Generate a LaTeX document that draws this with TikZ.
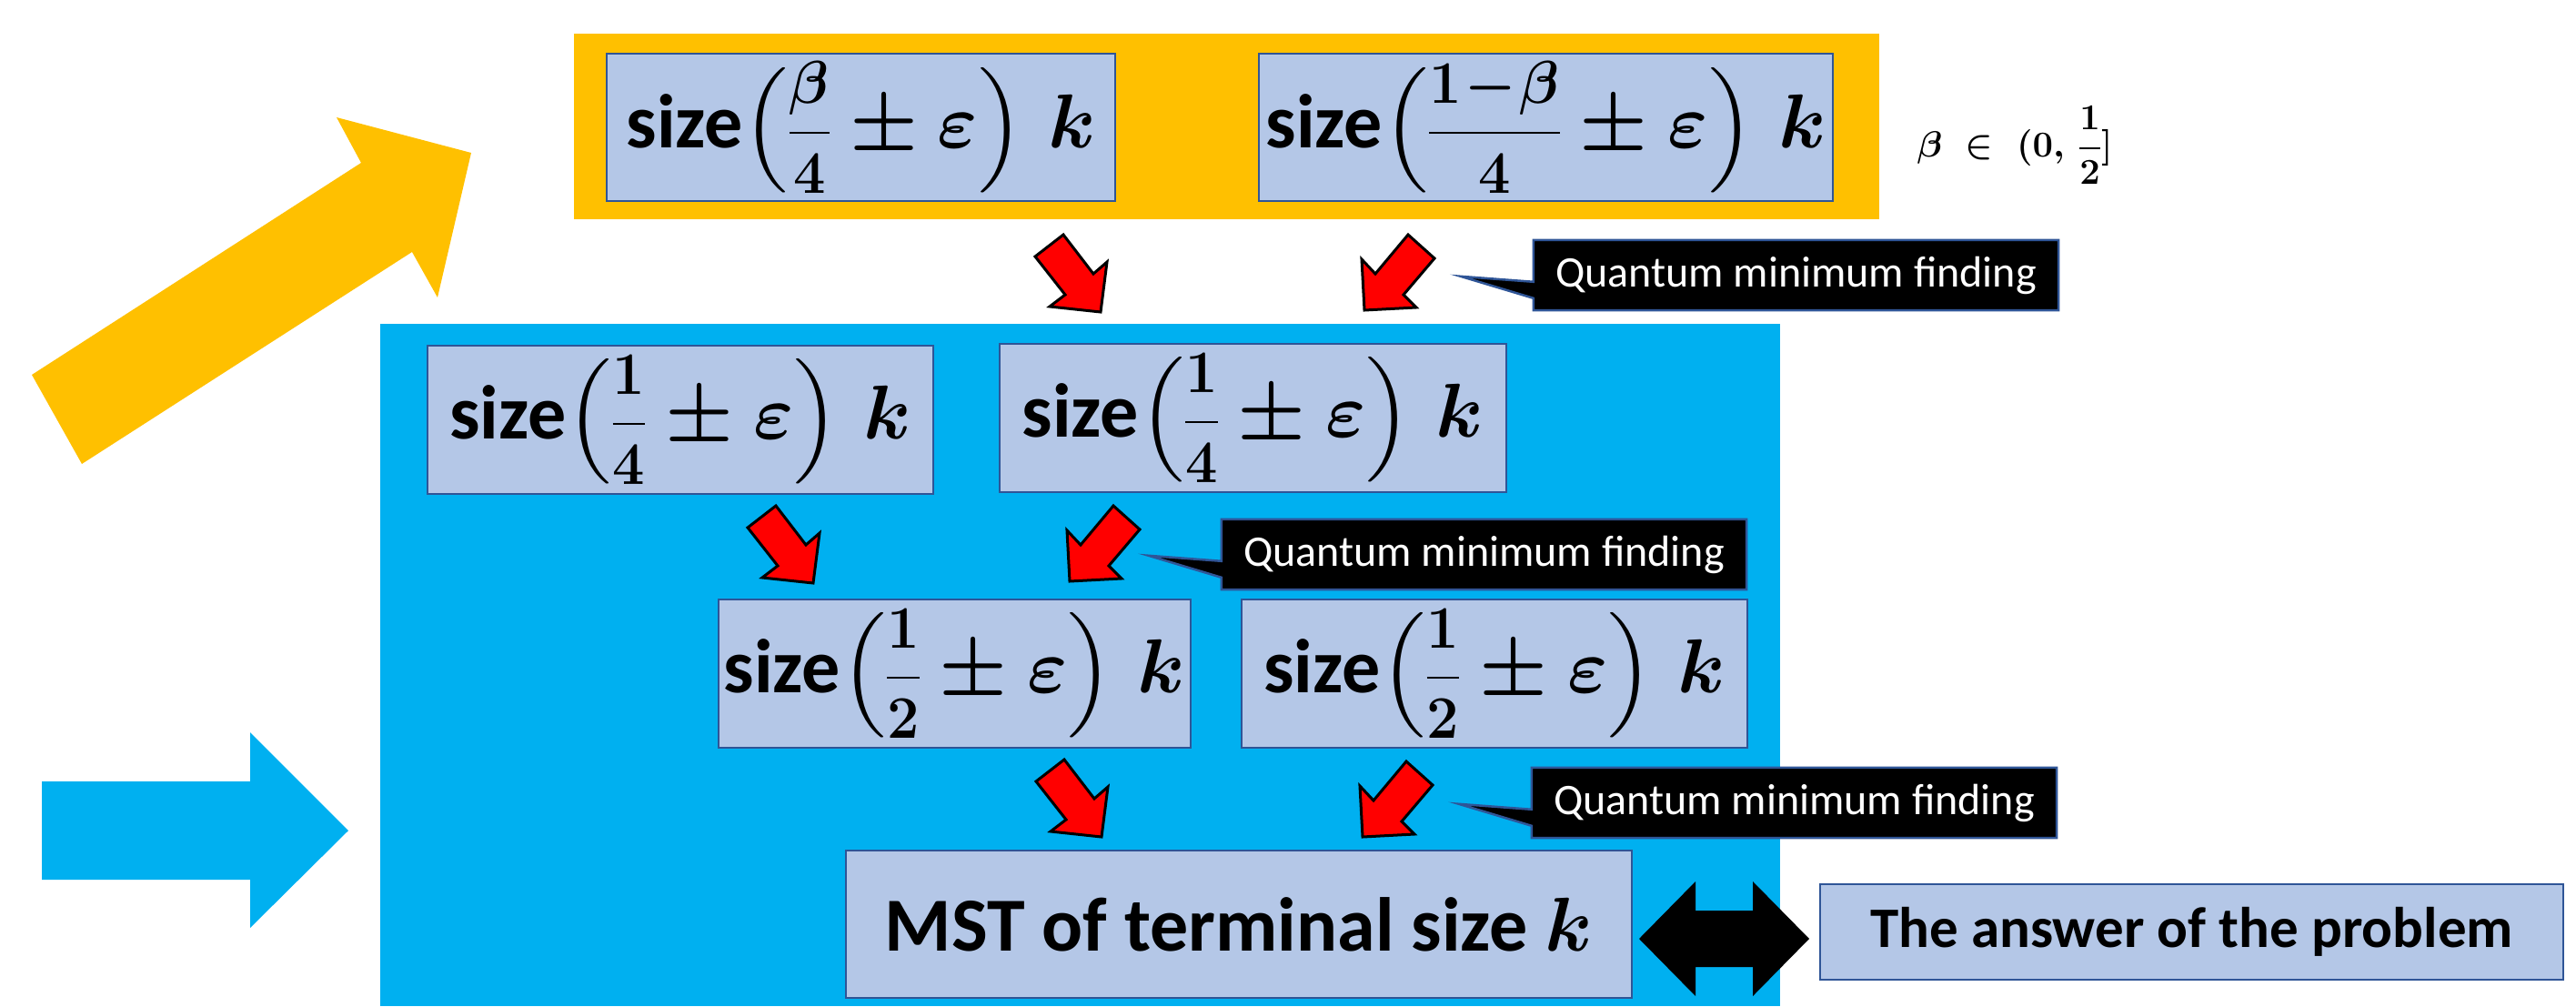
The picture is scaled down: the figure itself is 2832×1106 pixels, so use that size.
\RequirePackage{fix-cm}
\documentclass[tikz,border=0pt]{standalone}
\usepackage{amsmath}
\DeclareFontShape{OMX}{cmex}{m}{n}{<->cmex10}{}
\usepackage{fontspec}
\newfontfamily\carl{Carlito}
\usetikzlibrary{calc}
\definecolor{orng}{HTML}{FFC000}
\definecolor{skyb}{HTML}{00B0F0}
\definecolor{boxfill}{HTML}{B4C7E7}
\definecolor{boxline}{HTML}{2F5597}
\pgfdeclarelayer{bg}
\pgfdeclarelayer{mid}
\pgfsetlayers{bg,mid,main}
\newcommand{\fr}[2]{\scalebox{0.75}[0.79]{$\dfrac{#1}{#2}$}}
\newcommand{\lpar}{\mathopen{\scalebox{1}[0.91]{$\Bigl($}}}
\newcommand{\rpar}{\mathclose{\scalebox{1}[0.91]{$\Bigr)$}}}
\newcommand{\sz}[2]{{\carl\bfseries size}$\lpar\fr{#1}{#2}\pm\varepsilon\rpar\;k$}
\tikzset{
  redR/.pic={\filldraw[redarrow] (-31,24) -- (0,0) -- (33,43) -- (48,30) -- (41,85) -- (-15,79) -- (2,66) -- cycle;},
  redL/.pic={\filldraw[redarrow] (0,0) -- (29,26) -- (-5,66) -- (9,80) -- (-48,83) -- (-51,27) -- (-36,43) -- cycle;}
}
\begin{document}
\begin{tikzpicture}[x=1pt,y=-1pt,
  box/.style={draw=boxline, fill=boxfill, line width=2.5pt, inner sep=0pt, text=black,
    font=\fontsize{84}{100}\selectfont\boldmath},
  callout/.style={fill=black, draw=boxline, line width=2.5pt, line join=miter},
  cltext/.style={inner sep=0pt, text=white, minimum width=577pt, minimum height=77pt,
    font=\fontsize{48}{58}\selectfont\carl},
  redarrow/.style={fill=red, draw=black, line width=3pt, line join=miter}
]
\useasboundingbox (0,0) rectangle (2832,1106);

\begin{pgfonlayer}{bg}
\fill[orng] (631,37) rectangle (2066,241);
\fill[skyb] (418,356) rectangle (1957,1106);
\fill[orng] (35,412) -- (397,179) -- (370,129) -- (518,168) -- (481,327) -- (453,277) -- (90,510) -- cycle;
\fill[skyb] (46,859) -- (275,859) -- (275,805) -- (383,913) -- (275,1020) -- (275,967) -- (46,967) -- cycle;
\end{pgfonlayer}

\node[box, minimum width=559pt, minimum height=162pt] (bA) at (946.5,140) {\sz{\beta}{4}};
\node[box, minimum width=631pt, minimum height=162pt] (bB) at (1699.5,140) {\sz{1\!-\!\beta}{4}};
\node[box, minimum width=556pt, minimum height=163pt] (bC) at (748,461.5) {\sz{1}{4}};
\node[box, minimum width=557pt, minimum height=163pt] (bD) at (1377.5,459.5) {\sz{1}{4}};
\node[box, minimum width=519pt, minimum height=163pt] (bE) at (1049.5,740.5) {\sz{1}{2}};
\node[box, minimum width=556pt, minimum height=163pt] (bF) at (1643,740.5) {\sz{1}{2}};
\node[box, minimum width=864pt, minimum height=162pt] (bG) at (1362,1016) {{\carl\bfseries MST of terminal size }$k$};
\node[box, minimum width=817pt, minimum height=105pt, font=\fontsize{63}{75}\selectfont\carl\bfseries] (bH) at (2409.5,1024.5) {The answer of the problem};

\node[font=\fontsize{40}{48}\selectfont\boldmath] (beta) at (2215,160) {$\beta\mathrel{\;\in\;}(\mathbf{0},\,\dfrac{1}{2}]$};

\node[cltext] (c1) at (1974.5,302.5) {Quantum minimum finding};
\node[cltext] (c2) at (1631.5,609.5) {Quantum minimum finding};
\node[cltext] (c3) at (1972.5,882.5) {Quantum minimum finding};

\begin{pgfonlayer}{mid}
\foreach \c in {c1,c2,c3} {
  \filldraw[callout] (\c.north west) -- (\c.north east) -- (\c.south east) -- (\c.south west)
    -- ($(\c.north west)+(0,64)$) -- ($(\c.north west)+(-80,40)$) -- ($(\c.north west)+(0,46)$) -- cycle;
}
\end{pgfonlayer}

\pic at (1169,258) {redR};
\pic at (1548,258) {redL};
\pic at (853,556) {redR};
\pic at (1224,556) {redL};
\pic at (1170,835) {redR};
\pic at (1546,837) {redL};

\coordinate (dbl) at (1895.5,1032);
\fill[black, shift={(dbl)}] (-93.5,0) -- (-31.5,-63) -- (-31.5,-31) -- (31.5,-31) -- (31.5,-63) -- (93.5,0)
  -- (31.5,63) -- (31.5,31) -- (-31.5,31) -- (-31.5,63) -- cycle;
\end{tikzpicture}
\end{document}
